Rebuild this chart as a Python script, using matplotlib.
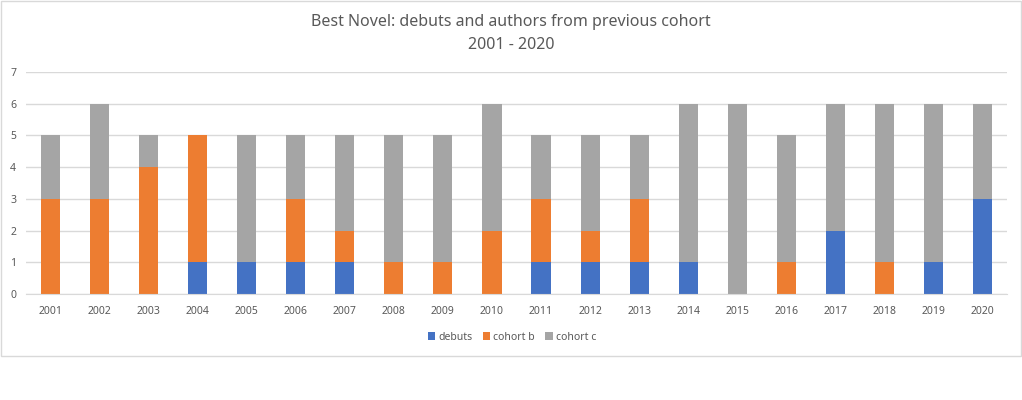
import numpy as np
import matplotlib.pyplot as plt
from matplotlib.patches import Rectangle

years = [str(y) for y in range(2001, 2021)]
debuts   = [0, 0, 0, 1, 1, 1, 1, 0, 0, 0, 1, 1, 1, 1, 0, 0, 2, 0, 1, 3]
cohort_b = [3, 3, 4, 4, 0, 2, 1, 1, 1, 2, 2, 1, 2, 0, 0, 1, 0, 1, 0, 0]
cohort_c = [2, 3, 1, 0, 4, 2, 3, 4, 4, 4, 2, 3, 2, 5, 6, 4, 4, 5, 5, 3]

plt.rcParams['font.family'] = ['Noto Sans', 'DejaVu Sans']
txt = '#595959'

fig = plt.figure(figsize=(10.22, 4), dpi=100)
fig.patches.append(Rectangle((0.5 / 1022, 1 - 356 / 400), 1020.5 / 1022, 355.5 / 400,
                             transform=fig.transFigure, fill=False,
                             edgecolor='#d9d9d9', linewidth=1))
ax = fig.add_axes([26 / 1022, 1 - 294 / 400, 981 / 1022, 222 / 400])

x = np.arange(len(years))
d = np.array(debuts)
b = np.array(cohort_b)
c = np.array(cohort_c)
w = 0.39
ax.bar(x, d, w, color='#4472C4', label='debuts', zorder=2)
ax.bar(x, b, w, bottom=d, color='#ED7D31', label='cohort b', zorder=2)
ax.bar(x, c, w, bottom=d + b, color='#A5A5A5', label='cohort c', zorder=2)

ax.set_xlim(-0.5, len(years) - 0.5)
ax.set_ylim(0, 7)
ax.set_yticks(range(8))
ax.set_xticks(x)
ax.set_xticklabels(years)
ax.yaxis.grid(True, color='#d9d9d9', linewidth=1, zorder=0)
for s in ['top', 'right', 'left']:
    ax.spines[s].set_visible(False)
ax.spines['bottom'].set_color('#d9d9d9')
ax.tick_params(axis='both', length=0, colors=txt, labelsize=7.5)
ax.tick_params(axis='x', pad=9)
ax.tick_params(axis='y', pad=7)

fig.text(0.5, 1 - 22 / 400, 'Best Novel: debuts and authors from previous cohort',
         ha='center', va='center', fontsize=11.5, color=txt)
fig.text(0.5, 1 - 45 / 400, '2001 - 2020', ha='center', va='center',
         fontsize=11.5, color=txt)

fig.legend(loc='center', bbox_to_anchor=(512 / 1022, 1 - 337 / 400), ncol=3,
           frameon=False, fontsize=7.5, handlelength=0.7, handleheight=0.7,
           handletextpad=0.3, columnspacing=1.0, labelcolor=txt)

fig.savefig('out.png', dpi=100, facecolor='white')
